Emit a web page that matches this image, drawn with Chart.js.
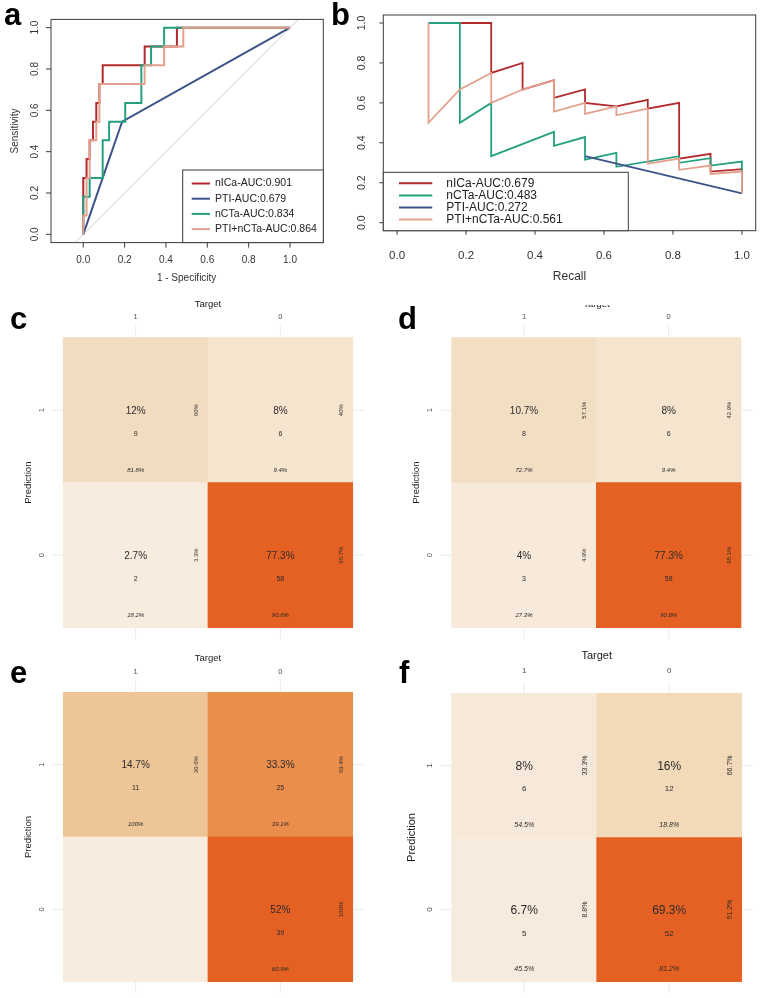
<!DOCTYPE html>
<html>
<head>
<meta charset="utf-8">
<script src="https://cdn.jsdelivr.net/npm/chart.js@4.4.0/dist/chart.umd.min.js"></script>
<style>
  html, body { margin: 0; padding: 0; background: #fff; }
  body { width: 760px; height: 998px; position: relative; overflow: hidden; font-family: "Liberation Sans", Arial, sans-serif; }
  canvas { position: absolute; }
  .tag { position: absolute; font-weight: bold; font-size: 31px; line-height: 31px; color: #000; }
</style>
</head>
<body>
<canvas id="rocChart" width="340" height="300" style="left:0;top:0;width:340px;height:300px"></canvas>
<canvas id="prChart" width="420" height="300" style="left:340px;top:0;width:420px;height:300px"></canvas>
<canvas id="cmC" width="380" height="344" style="left:0;top:296px;width:380px;height:344px"></canvas>
<canvas id="cmD" width="380" height="335" style="left:380px;top:305px;width:380px;height:335px"></canvas>
<canvas id="cmE" width="380" height="358" style="left:0;top:640px;width:380px;height:358px"></canvas>
<canvas id="cmF" width="380" height="358" style="left:380px;top:640px;width:380px;height:358px"></canvas>

<div class="tag" style="left:4px;top:-1px">a</div>
<div class="tag" style="left:331px;top:-1px">b</div>
<div class="tag" style="left:10px;top:303px">c</div>
<div class="tag" style="left:398px;top:303px">d</div>
<div class="tag" style="left:10px;top:657px">e</div>
<div class="tag" style="left:399px;top:657px">f</div>

<script>
// ---------- data ----------
// axis ticks shared by the two line panels
const unitTicks = [0, 0.2, 0.4, 0.6, 0.8, 1];
const unitTickLabels = ['0.0', '0.2', '0.4', '0.6', '0.8', '1.0'];

// a: ROC curves (1 - specificity, sensitivity)
const rocNicaFpr = [0, 0, 0.016, 0.016, 0.031, 0.031, 0.047, 0.047, 0.063, 0.063, 0.078, 0.078, 0.094, 0.094, 0.297, 0.297, 0.453, 0.453, 1];
const rocNicaTpr = [0, 0.273, 0.273, 0.364, 0.364, 0.455, 0.455, 0.545, 0.545, 0.636, 0.636, 0.727, 0.727, 0.818, 0.818, 0.909, 0.909, 1, 1];
const rocPtiFpr = [0, 0.094, 0.188, 1];
const rocPtiTpr = [0, 0.273, 0.545, 1];
const rocNctaFpr = [0, 0, 0.031, 0.031, 0.094, 0.094, 0.125, 0.125, 0.203, 0.203, 0.281, 0.281, 0.328, 0.328, 0.391, 0.391, 1];
const rocNctaTpr = [0, 0.182, 0.182, 0.273, 0.273, 0.455, 0.455, 0.545, 0.545, 0.636, 0.636, 0.818, 0.818, 0.909, 0.909, 1, 1];
const rocComboFpr = [0, 0, 0.016, 0.016, 0.031, 0.031, 0.063, 0.063, 0.078, 0.078, 0.297, 0.297, 0.391, 0.391, 0.484, 0.484, 1];
const rocComboTpr = [0, 0.091, 0.091, 0.273, 0.273, 0.455, 0.455, 0.545, 0.545, 0.727, 0.727, 0.818, 0.818, 0.909, 0.909, 1, 1];
const rocChance = [-0.04, 1.04];
const rocNames = ['nICa-AUC:0.901', 'PTI-AUC:0.679', 'nCTa-AUC:0.834', 'PTI+nCTa-AUC:0.864'];

// b: precision-recall curves
const prNicaRecall = [0.091, 0.273, 0.273, 0.364, 0.364, 0.455, 0.455, 0.545, 0.545, 0.636, 0.727, 0.727, 0.818, 0.818, 0.909, 0.909, 1, 1];
const prNicaPrecision = [1, 1, 0.75, 0.8, 0.667, 0.714, 0.625, 0.667, 0.6, 0.583, 0.615, 0.571, 0.6, 0.321, 0.345, 0.256, 0.268, 0.147];
const prNctaRecall = [0.091, 0.182, 0.182, 0.273, 0.273, 0.455, 0.455, 0.545, 0.545, 0.636, 0.636, 0.818, 0.818, 0.909, 0.909, 1, 1];
const prNctaPrecision = [1, 1, 0.5, 0.6, 0.333, 0.455, 0.385, 0.429, 0.316, 0.35, 0.28, 0.333, 0.3, 0.323, 0.286, 0.306, 0.147];
const prPtiRecall = [0.545, 1];
const prPtiPrecision = [0.333, 0.147];
const prComboRecall = [0.091, 0.091, 0.182, 0.273, 0.273, 0.364, 0.455, 0.455, 0.545, 0.545, 0.636, 0.636, 0.727, 0.727, 0.818, 0.818, 0.909, 0.909, 1, 1];
const prComboPrecision = [1, 0.5, 0.667, 0.75, 0.6, 0.667, 0.714, 0.556, 0.6, 0.545, 0.583, 0.538, 0.571, 0.296, 0.321, 0.265, 0.286, 0.244, 0.256, 0.147];
const prNames = ['nICa-AUC:0.679', 'nCTa-AUC:0.483', 'PTI-AUC:0.272', 'PTI+nCTa-AUC:0.561'];

// c-f: confusion matrices, cells in order (pred 1, target 1), (1, 0), (0, 1), (0, 0)
const targetLabels = ['1', '0'];
const predictionLabels = ['1', '0'];
const cellTarget = ['1', '0', '1', '0'];
const cellPrediction = ['1', '1', '0', '0'];

const cCounts = [9, 6, 2, 58];
const cTotalPct = ['12%', '8%', '2.7%', '77.3%'];
const cRowPct = ['60%', '40%', '3.3%', '96.7%'];
const cColPct = ['81.8%', '9.4%', '18.2%', '90.6%'];

const dCounts = [8, 6, 3, 58];
const dTotalPct = ['10.7%', '8%', '4%', '77.3%'];
const dRowPct = ['57.1%', '42.9%', '4.9%', '95.1%'];
const dColPct = ['72.7%', '9.4%', '27.3%', '90.6%'];

const eCounts = [11, 25, 0, 39];
const eTotalPct = ['14.7%', '33.3%', '0%', '52%'];
const eRowPct = ['30.6%', '69.4%', '0%', '100%'];
const eColPct = ['100%', '39.1%', '0%', '60.9%'];

const fCounts = [6, 12, 5, 52];
const fTotalPct = ['8%', '16%', '6.7%', '69.3%'];
const fRowPct = ['33.3%', '66.7%', '8.8%', '91.2%'];
const fColPct = ['54.5%', '18.8%', '45.5%', '81.2%'];

// ---------- styles ----------
const nicaColour = '#B3282B';
const ptiColour = '#3C5488';
const nctaColour = '#24A07F';
const comboColour = '#E3A08C';
const FONT = '"Liberation Sans", Arial, sans-serif';

const cTiles = ['#F2DCC0', '#F5E4CE', '#F7ECDE', '#E56123'];
const dTiles = ['#F2DEC3', '#F5E4CE', '#F7EADB', '#E56123'];
const eTiles = ['#EEC596', '#EB8E4C', '#F7ECDE', '#E56123'];
const fTiles = ['#F6E9D9', '#F2DAB9', '#F7EBDD', '#E56123'];

function pairs(xs, ys) {
    return xs.map((v, i) => ({ x: v, y: ys[i] }));
}

function strokeLine(ctx, x1, y1, x2, y2) {
    ctx.beginPath();
    ctx.moveTo(x1, y1);
    ctx.lineTo(x2, y2);
    ctx.stroke();
}

function curve(label, xs, ys, colour, order, width) {
    return {
        label: label,
        data: pairs(xs, ys),
        showLine: true,
        borderColor: colour,
        backgroundColor: colour,
        borderWidth: width,
        pointRadius: 0,
        tension: 0,
        fill: false,
        order: order
    };
}

// R base-graphics look: box, outside ticks, rotated y labels, boxed legend
const baseGraphics = {
    id: 'baseGraphics',
    afterDraw(chart, args, o) {
        const { ctx, chartArea: a, scales: { x, y } } = chart;
        ctx.save();
        ctx.strokeStyle = '#3a3a3a';
        ctx.lineWidth = 1;
        ctx.strokeRect(a.left, a.top, a.width, a.height);
        ctx.fillStyle = '#333';
        ctx.textAlign = 'center';
        ctx.textBaseline = 'middle';

        ctx.font = o.xTickSize + 'px ' + FONT;
        unitTicks.forEach((v, i) => {
            const px = x.getPixelForValue(v);
            strokeLine(ctx, px, a.bottom, px, a.bottom + o.tickLength);
            ctx.fillText(unitTickLabels[i], px, a.bottom + o.xLabelOffset);
        });
        ctx.font = o.yTickSize + 'px ' + FONT;
        unitTicks.forEach((v, i) => {
            const py = y.getPixelForValue(v);
            strokeLine(ctx, a.left - o.tickLength, py, a.left, py);
            ctx.save();
            ctx.translate(a.left - o.yLabelOffset, py);
            ctx.rotate(-Math.PI / 2);
            ctx.fillText(unitTickLabels[i], 0, 0);
            ctx.restore();
        });

        ctx.font = o.titleSize + 'px ' + FONT;
        if (o.xTitle) ctx.fillText(o.xTitle, x.getPixelForValue(0.5), a.bottom + o.xTitleOffset);
        if (o.yTitle) {
            ctx.save();
            ctx.translate(a.left - o.yTitleOffset, y.getPixelForValue(0.5));
            ctx.rotate(-Math.PI / 2);
            ctx.fillText(o.yTitle, 0, 0);
            ctx.restore();
        }

        // legend
        const L = o.legend;
        ctx.fillStyle = '#fff';
        ctx.fillRect(L.left, L.top, L.width, L.height);
        ctx.strokeStyle = '#3a3a3a';
        ctx.strokeRect(L.left, L.top, L.width, L.height);
        ctx.font = L.size + 'px ' + FONT;
        ctx.textAlign = 'left';
        L.datasets.forEach((di, i) => {
            const ds = chart.data.datasets[di];
            const ry = L.top + L.firstRow + i * L.rowGap;
            ctx.strokeStyle = ds.borderColor;
            ctx.lineWidth = 2;
            strokeLine(ctx, L.left + L.lineStart, ry, L.left + L.lineEnd, ry);
            ctx.fillStyle = '#222';
            ctx.fillText(ds.label, L.left + L.textStart, ry);
        });
        ctx.restore();
    }
};

// a: ROC
new Chart(document.getElementById('rocChart'), {
    type: 'scatter',
    data: {
        datasets: [
            curve(rocNames[0], rocNicaFpr, rocNicaTpr, nicaColour, 4, 2),
            curve(rocNames[1], rocPtiFpr, rocPtiTpr, ptiColour, 3, 2),
            curve(rocNames[2], rocNctaFpr, rocNctaTpr, nctaColour, 2, 2),
            curve(rocNames[3], rocComboFpr, rocComboTpr, comboColour, 1, 2),
            curve('', rocChance, rocChance, '#CFCFCF', 5, 1)
        ]
    },
    options: {
        responsive: false,
        animation: false,
        events: [],
        layout: { padding: { left: 51, top: 19.4, right: 16.7, bottom: 57.4 } },
        scales: {
            x: { type: 'linear', display: false, min: -0.156, max: 1.161 },
            y: { type: 'linear', display: false, min: -0.04, max: 1.04 }
        },
        plugins: {
            legend: { display: false },
            tooltip: { enabled: false },
            baseGraphics: {
                xTickSize: 10, yTickSize: 10, titleSize: 10, tickLength: 5,
                xLabelOffset: 18, xTitleOffset: 36, yLabelOffset: 16, yTitleOffset: 36,
                xTitle: '1 - Specificity', yTitle: 'Sensitivity',
                legend: { left: 182.7, top: 170, width: 140.6, height: 72.6, size: 10.5,
                          firstRow: 13.5, rowGap: 15.2, lineStart: 9, lineEnd: 27.3, textStart: 32.3,
                          datasets: [0, 1, 2, 3] }
            }
        }
    },
    plugins: [baseGraphics]
});

// b: precision-recall
new Chart(document.getElementById('prChart'), {
    type: 'scatter',
    data: {
        datasets: [
            curve(prNames[0], prNicaRecall, prNicaPrecision, nicaColour, 4, 1.8),
            curve(prNames[1], prNctaRecall, prNctaPrecision, nctaColour, 3, 1.8),
            curve(prNames[2], prPtiRecall, prPtiPrecision, ptiColour, 2, 1.8),
            curve(prNames[3], prComboRecall, prComboPrecision, comboColour, 1, 1.8)
        ]
    },
    options: {
        responsive: false,
        animation: false,
        events: [],
        layout: { padding: { left: 43.3, top: 15, right: 4.3, bottom: 69.3 } },
        scales: {
            x: { type: 'linear', display: false, min: -0.04, max: 1.04 },
            y: { type: 'linear', display: false, min: -0.04, max: 1.04 }
        },
        plugins: {
            legend: { display: false },
            tooltip: { enabled: false },
            baseGraphics: {
                xTickSize: 11.5, yTickSize: 10.5, titleSize: 12, tickLength: 4,
                xLabelOffset: 25.3, xTitleOffset: 46, yLabelOffset: 21.6, yTitleOffset: 0,
                xTitle: 'Recall', yTitle: '',
                legend: { left: 43.3, top: 172.3, width: 245, height: 58.4, size: 12,
                          firstRow: 11, rowGap: 12.1, lineStart: 15.7, lineEnd: 49, textStart: 63,
                          datasets: [0, 1, 2, 3] }
            }
        }
    },
    plugins: [baseGraphics]
});

// c-f: confusion matrices drawn as floating bars on linear scales
const tileCentres = [0.5, 1.5];

const matrixLabels = {
    id: 'matrixLabels',
    beforeDatasetsDraw(chart) {
        const { ctx, chartArea: a, scales: { x, y } } = chart;
        ctx.save();
        ctx.strokeStyle = '#EBEBEB';
        ctx.lineWidth = 1;
        tileCentres.forEach(v => {
            const px = x.getPixelForValue(v);
            const py = y.getPixelForValue(v);
            strokeLine(ctx, px, a.top, px, a.bottom);
            strokeLine(ctx, a.left, py, a.right, py);
        });
        ctx.restore();
    },
    afterDatasetsDraw(chart, args, o) {
        const { ctx, scales: { x, y } } = chart;
        const meta = chart.getDatasetMeta(0);
        ctx.save();
        ctx.textAlign = 'center';
        ctx.textBaseline = 'middle';
        meta.data.forEach((bar, i) => {
            if (!o.counts[i]) return;
            const h = Math.abs(bar.base - bar.y);
            const cy = Math.min(bar.y, bar.base) + h / 2;
            ctx.fillStyle = '#2b2b2b';
            ctx.font = o.bigSize + 'px ' + FONT;
            ctx.fillText(o.totalPct[i], bar.x, cy + 1);
            ctx.font = o.countSize + 'px ' + FONT;
            ctx.fillText(String(o.counts[i]), bar.x, cy + 0.165 * h);
            ctx.font = 'italic ' + o.smallSize + 'px ' + FONT;
            ctx.fillText(o.colPct[i], bar.x, cy + 0.415 * h);
            ctx.save();
            ctx.translate(bar.x + 0.42 * bar.width, cy);
            ctx.rotate(-Math.PI / 2);
            ctx.font = o.smallSize + 'px ' + FONT;
            ctx.fillText(o.rowPct[i], 0, 0);
            ctx.restore();
        });

        const top = y.getPixelForValue(2);
        const left = x.getPixelForValue(0);
        ctx.fillStyle = '#1a1a1a';
        ctx.font = o.titleSize + 'px ' + FONT;
        ctx.fillText('Target', x.getPixelForValue(1), top - o.titleGap);
        ctx.save();
        ctx.translate(left - o.yTitleGap, y.getPixelForValue(1));
        ctx.rotate(-Math.PI / 2);
        ctx.fillText('Prediction', 0, 0);
        ctx.restore();

        ctx.fillStyle = '#4D4D4D';
        ctx.font = o.axisSize + 'px ' + FONT;
        targetLabels.forEach((t, i) => {
            ctx.fillText(t, x.getPixelForValue(tileCentres[i]), top - o.tickGap);
        });
        predictionLabels.forEach((p, i) => {
            ctx.save();
            ctx.translate(left - o.rowGap, y.getPixelForValue(tileCentres[1 - i]));
            ctx.rotate(-Math.PI / 2);
            ctx.fillText(p, 0, 0);
            ctx.restore();
        });
        ctx.restore();
    }
};

function matrixChart(id, counts, totalPct, rowPct, colPct, tiles, look) {
    const cells = counts.map((n, i) => {
        const col = targetLabels.indexOf(cellTarget[i]);
        const low = predictionLabels.length - 1 - predictionLabels.indexOf(cellPrediction[i]);
        return { x: tileCentres[col], y: [low, low + 1] };
    });
    const fixedTicks = scale => { scale.ticks = tileCentres.map(v => ({ value: v })); };
    return new Chart(document.getElementById(id), {
        type: 'bar',
        data: {
            datasets: [{
                data: cells,
                backgroundColor: tiles,
                borderWidth: 0,
                barPercentage: 1,
                categoryPercentage: 1
            }]
        },
        options: {
            responsive: false,
            animation: false,
            events: [],
            layout: { padding: look.pad },
            scales: {
                x: { type: 'linear', display: false, offset: false, bounds: 'data', min: -0.08, max: 2.08, afterBuildTicks: fixedTicks },
                y: { type: 'linear', display: false, offset: false, bounds: 'data', min: -0.08, max: 2.08, afterBuildTicks: fixedTicks }
            },
            plugins: {
                legend: { display: false },
                tooltip: { enabled: false },
                matrixLabels: Object.assign({ counts, totalPct, rowPct, colPct }, look)
            }
        },
        plugins: [matrixLabels]
    });
}

const smallLook = { titleSize: 9.5, axisSize: 7.5, bigSize: 10, countSize: 7, smallSize: 6,
                    titleGap: 33.7, tickGap: 20.7, rowGap: 21.6, yTitleGap: 35.3 };

matrixChart('cmC', cCounts, cTotalPct, cRowPct, cColPct, cTiles,
    Object.assign({ pad: { left: 51.7, top: 30.1, right: 15.7, bottom: 0.7 } }, smallLook));
matrixChart('cmD', dCounts, dTotalPct, dRowPct, dColPct, dTiles,
    Object.assign({ pad: { left: 60.1, top: 21.1, right: 7.4, bottom: 0.7 } }, smallLook));
matrixChart('cmE', eCounts, eTotalPct, eRowPct, eColPct, eTiles,
    Object.assign({ pad: { left: 51.7, top: 40.7, right: 15.7, bottom: 4.7 } }, smallLook));
matrixChart('cmF', fCounts, fTotalPct, fRowPct, fColPct, fTiles,
    { pad: { left: 60.1, top: 41.8, right: 6.7, bottom: 4.8 },
      titleSize: 11, axisSize: 8, bigSize: 12, countSize: 8, smallSize: 7,
      titleGap: 37.6, tickGap: 22.3, rowGap: 21.7, yTitleGap: 40 });
</script>
</body>
</html>
